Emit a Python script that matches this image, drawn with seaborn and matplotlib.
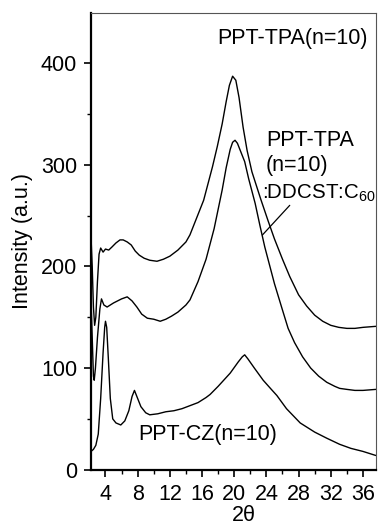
import numpy as np
import pandas as pd
import matplotlib
matplotlib.use("Agg")
import matplotlib.pyplot as plt
import seaborn as sns

# ---------------- data ----------------
tpa_x = [2.2, 2.35, 2.5, 2.65, 2.8, 3.0, 3.2, 3.4, 3.7, 4.0, 4.4, 4.8, 5.3, 5.8, 6.2,
         6.7, 7.2, 7.7, 8.2, 8.8, 9.5, 10.4, 11.2, 12.0, 13.0, 14.0, 14.5, 15.3, 16.2,
         17.3, 17.9, 18.5, 19.0, 19.4, 19.8, 20.2, 20.6, 21.1, 21.6, 22.2, 23.3, 24.2,
         25.0, 26.0, 26.9, 28.0, 29.0, 30.0, 31.0, 32.0, 33.0, 34.0, 35.0, 36.0, 37.6]
tpa_y = [229, 200, 160, 142, 150, 185, 212, 218, 214, 217, 216, 219, 223, 226, 226,
         224, 221, 215, 211, 208, 206, 205, 207, 210, 216, 224, 231, 247, 265,
         298, 318, 340, 362, 378, 387, 383, 366, 337, 314, 293, 266, 245,
         227, 207, 190, 172, 161, 152, 146, 142, 140, 139, 139, 140, 141]

blend_x = [2.2, 2.35, 2.5, 2.6, 2.75, 3.0, 3.3, 3.5, 3.8, 4.2, 4.6, 5.0, 5.5, 6.0, 6.7,
           7.3, 7.9, 8.5, 9.2, 10.0, 10.8, 11.5, 12.2, 13.0, 14.0, 14.5, 15.5, 16.5,
           17.5, 18.5, 19.0, 19.5, 19.8, 20.1, 20.4, 20.8, 21.3, 21.8, 22.6, 23.2,
           23.8, 24.2, 25.0, 26.0, 26.7, 27.5, 28.5, 29.5, 30.5, 31.5, 32.5, 33.1,
           34.0, 35.0, 36.0, 37.6]
blend_y = [168, 130, 92, 88, 100, 130, 158, 168, 162, 160, 162, 164, 166, 168, 170,
           166, 160, 153, 149, 148, 146, 148, 151, 155, 162, 167, 185, 207,
           237, 275, 297, 315, 322, 324, 321, 313, 303, 286, 262, 240,
           219, 207, 183, 157, 139, 125, 111, 100, 92, 86, 82, 80,
           79, 78, 78, 79]

cz_x = [2.2, 2.5, 2.8, 3.1, 3.4, 3.7, 3.9, 4.0, 4.15, 4.35, 4.6, 4.9, 5.3, 5.9, 6.4,
        6.9, 7.3, 7.6, 7.9, 8.4, 9.0, 9.5, 10.5, 11.5, 12.5, 13.5, 14.5, 15.5, 16.5,
        17.0, 18.0, 19.5, 20.5, 21.0, 21.3, 21.7, 22.5, 23.6, 24.5, 25.3, 26.5, 28.2,
        30.0, 31.5, 33.1, 34.5, 36.0, 37.6]
cz_y = [18, 20, 24, 35, 70, 115, 140, 146, 140, 110, 70, 50, 46, 44, 48,
        58, 72, 78, 72, 62, 56, 54, 55, 57, 58, 60, 63, 66, 71,
        74, 82, 95, 106, 111, 113, 109, 100, 88, 80, 73, 60, 46,
        37, 31, 25, 21, 18, 14]

series_names = ["PPT-TPA(n=10)", "PPT-TPA(n=10):DDCST:C60", "PPT-CZ(n=10)"]
x_ticks = [4, 8, 12, 16, 20, 24, 28, 32, 36]
y_ticks = [0, 100, 200, 300, 400]

df = pd.concat([
    pd.DataFrame({"x": tpa_x, "y": tpa_y, "s": series_names[0]}),
    pd.DataFrame({"x": blend_x, "y": blend_y, "s": series_names[1]}),
    pd.DataFrame({"x": cz_x, "y": cz_y, "s": series_names[2]}),
])

# ---------------- style ----------------
sns.set_theme(style="ticks")
plt.rcParams["font.family"] = ["Liberation Sans", "DejaVu Sans"]
plt.rcParams["mathtext.default"] = "regular"
plt.rcParams["text.color"] = "black"
plt.rcParams["axes.labelcolor"] = "black"
plt.rcParams["xtick.color"] = "black"
plt.rcParams["ytick.color"] = "black"
FS = 15.5

fig = plt.figure(figsize=(3.8, 5.26), dpi=100)
ax = fig.add_axes([0.2395, 0.107, 0.7495, 0.868])

sns.lineplot(data=df, x="x", y="y", hue="s", units="s", estimator=None,
             palette=["black"] * 3, linewidth=1.0, legend=False, ax=ax, sort=True)

ax.set_xlim(2.2, 37.6)
ax.set_ylim(0, 449)

ax.set_xticks(x_ticks)
ax.set_xticks([6, 10, 14, 18, 22, 26, 30, 34], minor=True)
ax.set_yticks(y_ticks)
ax.set_yticks([50, 150, 250, 350], minor=True)
ax.tick_params(axis="both", which="major", direction="out", length=5, width=1.2,
               labelsize=FS, color="black", labelcolor="black")
ax.tick_params(axis="both", which="minor", direction="out", length=3, width=1.0,
               color="black")
ax.tick_params(axis="x", which="major", pad=5)
ax.tick_params(axis="y", which="major", pad=5)

for side in ["left", "bottom"]:
    ax.spines[side].set_linewidth(1.6)
    ax.spines[side].set_color("black")
for side in ["top", "right"]:
    ax.spines[side].set_visible(True)
    ax.spines[side].set_linewidth(0.8)
    ax.spines[side].set_color("#555555")

ax.set_xlabel("2θ", fontsize=FS, color="black")
ax.set_ylabel("Intensity (a.u.)", fontsize=FS, color="black")
ax.xaxis.set_label_coords(0.537, -0.078)
ax.yaxis.set_label_coords(-0.205, 0.5)

# annotations
ax.text(17.9, 424.5, "PPT-TPA(n=10)", fontsize=FS, ha="left", va="center")
ax.text(24.0, 324, "PPT-TPA", fontsize=FS, ha="left", va="center")
ax.text(23.95, 299, "(n=10)", fontsize=FS, ha="left", va="center")
ax.text(23.4, 272, ":DDCST:C$_{60}$", fontsize=14.8, ha="left", va="center")
ax.text(8.1, 34.4, "PPT-CZ(n=10)", fontsize=FS, ha="left", va="center")
ax.plot([26.9, 23.5], [260, 230.8], color="black", linewidth=0.9)

fig.savefig("out.png", dpi=100)
